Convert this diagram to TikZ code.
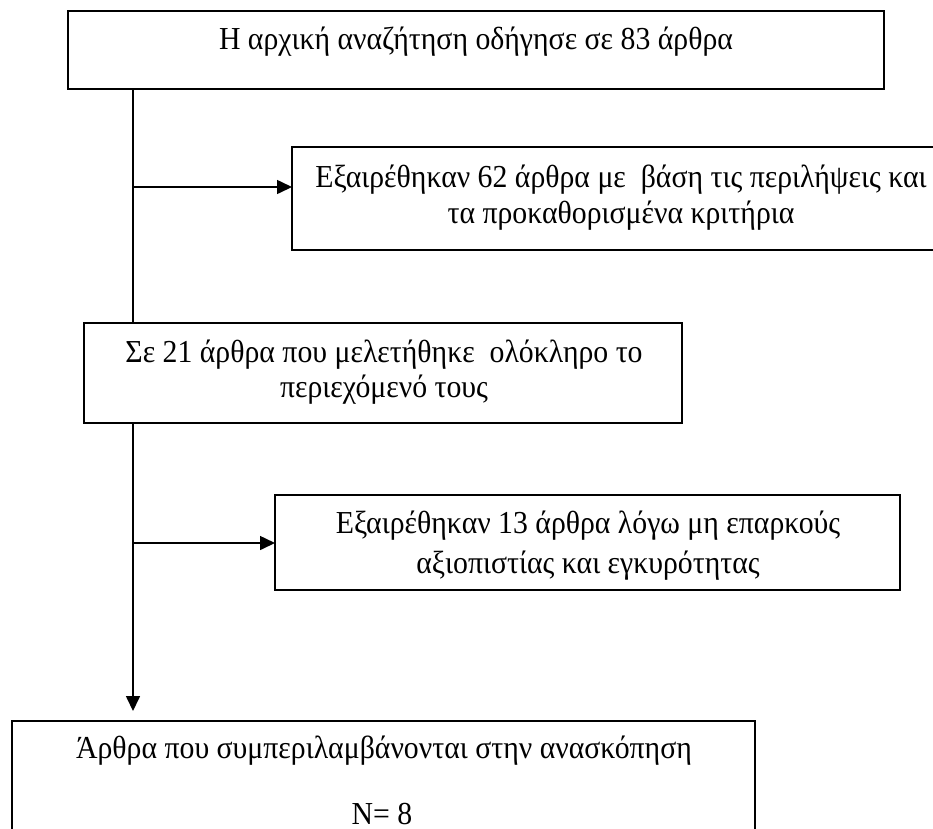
\documentclass[tikz,border=0pt]{standalone}
\usepackage{fontspec}
\setmainfont{Liberation Serif}
\newfontfamily\tallserif[FakeStretch=0.93]{Liberation Serif}
\usetikzlibrary{arrows.meta}
\begin{document}
\begin{tikzpicture}[x=1pt,y=-1pt,
  box/.style={draw=black,line width=2pt,inner sep=0pt,outer sep=0pt,anchor=north west},
  txt/.style={anchor=base,inner sep=0pt,font=\tallserif\fontsize{32}{36}\selectfont},
  conn/.style={line width=1.6pt},
  arr/.style={conn,-{Triangle[length=15pt,width=14pt]}}]
\clip (0,0) rectangle (933,828);
\fill[white] (0,0) rectangle (933,828);
% boxes
\node[box,minimum width=816pt,minimum height=78pt] (b1) at (68,11) {};
\node[box,minimum width=658pt,minimum height=103pt] (bA) at (292,147) {};
\node[box,minimum width=598pt,minimum height=100pt] (bB) at (84,323) {};
\node[box,minimum width=625pt,minimum height=95pt] (bC) at (275,495) {};
\node[box,minimum width=743pt,minimum height=180pt] (bD) at (12,721) {};
% texts
\node[txt] (t1) at (476,49) {Η αρχική αναζήτηση οδήγησε σε 83 άρθρα};
\node[txt] (tA1) at (621,187) {Εξαιρέθηκαν 62 άρθρα με\ \ βάση τις περιλήψεις και};
\node[txt] (tA2) at (621,223) {τα προκαθορισμένα κριτήρια};
\node[txt] (tB1) at (384,362) {Σε 21 άρθρα που μελετήθηκε\ \ ολόκληρο το};
\node[txt] (tB2) at (384,397) {περιεχόμενό τους};
\node[txt] (tC1) at (588,533) {Εξαιρέθηκαν 13 άρθρα λόγω μη επαρκούς};
\node[txt] (tC2) at (588,573) {αξιοπιστίας και εγκυρότητας};
\node[txt] (tD1) at (384,758) {Άρθρα που συμπεριλαμβάνονται στην ανασκόπηση};
\node[txt] (tD2) at (382,824) {N= 8};
% connectors
\coordinate (j1) at (133,187);
\coordinate (j2) at (133,543);
\draw[conn] (b1.south -| j1) -- (bB.north -| j1);
\draw[arr] (j1) -- (j1 -| bA.west);
\draw[arr] (j2) -- (j2 -| bC.west);
\draw[arr,shorten >=10pt] (bB.south -| j2) -- (bD.north -| j2);
\end{tikzpicture}
\end{document}
